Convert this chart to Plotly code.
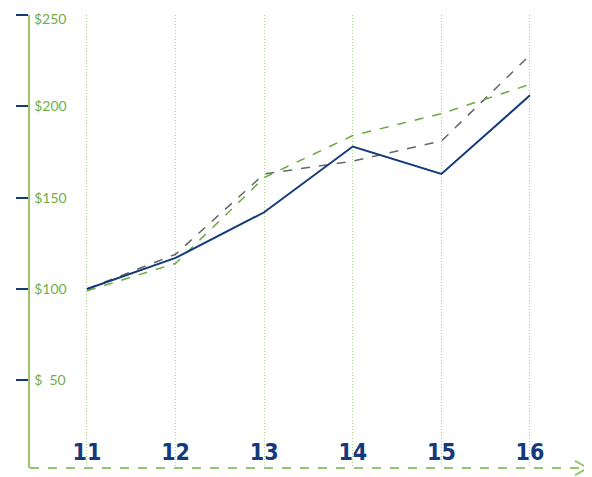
import plotly.graph_objects as go

categories = [11, 12, 13, 14, 15, 16]
series_navy = [100, 117, 142, 178, 163, 206]
series_gray = [100, 119, 163, 170, 181, 228]
series_green = [99, 114, 161, 184, 196, 212]
y_tickvals = [50, 100, 150, 200, 250]
y_ticktext = ["$\u00a0\u00a050", "$100", "$150", "$200", ""]
top_label = "$250"

NAVY = "#143a7b"
GREEN_TXT = "#6fae45"
GREEN_AX = "#96c66a"
GREEN_GRID = "#a9d47e"
GRAY = "#666666"
YFONT = dict(family="Lato, Open Sans, sans-serif", size=14, color=GREEN_TXT)

fig = go.Figure()
fig.add_trace(go.Scatter(x=categories, y=series_gray, mode="lines",
                         line=dict(color=GRAY, width=1.5, dash="dash")))
fig.add_trace(go.Scatter(x=categories, y=series_green, mode="lines",
                         line=dict(color="#6aaa3a", width=1.5, dash="dash")))
fig.add_trace(go.Scatter(x=categories, y=series_navy, mode="lines",
                         line=dict(color=NAVY, width=2)))

fig.update_layout(
    width=584, height=469,
    margin=dict(l=22, r=4, t=7, b=9, autoexpand=False),
    paper_bgcolor="white", plot_bgcolor="white",
    showlegend=False,
    xaxis=dict(
        range=[10.357, 16.655], tickvals=categories,
        ticktext=[str(c) for c in categories],
        showgrid=True, gridcolor=GREEN_GRID, griddash="1px,2px", gridwidth=1,
        zeroline=False, showline=False,
        ticklabelposition="inside", ticks="",
        tickfont=dict(family="Liberation Sans Narrow, DejaVu Sans Condensed, sans-serif",
                      size=23, color=NAVY, weight="bold"),
    ),
    yaxis=dict(
        range=[2, 250], tickvals=y_tickvals, ticktext=y_ticktext,
        showgrid=False, zeroline=False,
        showline=True, linecolor=GREEN_AX, linewidth=2,
        ticks="outside", ticklen=12, tickcolor=NAVY, tickwidth=2,
        ticklabelposition="inside", ticklabeloverflow="allow",
        ticklabelstandoff=4,
        tickfont=YFONT,
    ),
    annotations=[
        dict(text=top_label, xref="paper", yref="y", x=0, y=y_tickvals[-1],
             xanchor="left", yanchor="middle", xshift=3, yshift=-3,
             showarrow=False, font=YFONT, borderpad=0),
    ],
    shapes=[
        dict(type="line", xref="paper", yref="paper", x0=0, x1=1.0, y0=0, y1=0,
             line=dict(color=GREEN_AX, width=2, dash="dash")),
        dict(type="path", xref="paper", yref="paper",
             path="M 0.9767,0.0155 L 1.0,0 L 0.9767,-0.0155",
             line=dict(color=GREEN_AX, width=2)),
    ],
)

fig.write_html("out.html")
